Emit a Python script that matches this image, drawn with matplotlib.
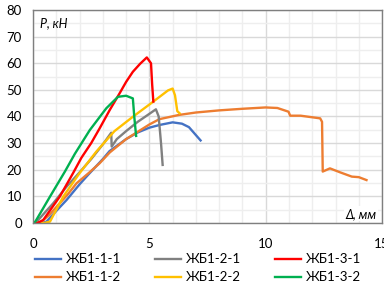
import matplotlib.pyplot as plt
from matplotlib.ticker import MultipleLocator

plt.rcParams['font.family'] = ['Lato', 'DejaVu Sans']

# ЖБ1-1-1
x_111 = [0.0, 0.4, 0.58, 1.0, 1.44, 2.0, 2.36, 3.0, 3.29, 4.0, 4.5, 5.0, 5.43, 6.0, 6.4, 6.7, 7.0, 7.2]
y_111 = [0.0, 0.0, 0.5, 4.5, 8.6, 14.5, 18.0, 24.0, 27.0, 31.5, 34.0, 35.8, 36.8, 37.8, 37.3, 36.0, 33.0, 31.0]
# ЖБ1-1-2
x_112 = [0.0, 0.3, 0.7, 1.15, 1.5, 1.87, 2.4, 2.86, 3.3, 4.0, 5.0, 5.43, 6.28, 7.0, 8.0, 9.0, 9.99, 10.5, 10.98,
         11.05, 11.5, 12.34, 12.42, 12.45, 12.76, 13.2, 13.7, 14.0, 14.33]
y_112 = [0.0, 0.0, 3.0, 7.4, 10.8, 14.9, 18.8, 22.4, 26.5, 31.5, 37.0, 39.0, 40.6, 41.5, 42.3, 42.9, 43.4, 43.2,
         41.8, 40.3, 40.3, 39.3, 38.0, 19.3, 20.5, 19.0, 17.4, 17.2, 16.1]
# ЖБ1-2-1
x_121 = [0.0, 0.16, 0.87, 1.44, 2.0, 2.5, 3.0, 3.36, 3.38, 3.6, 4.0, 4.5, 5.0, 5.28, 5.4, 5.5, 5.57]
y_121 = [0.0, 0.5, 7.4, 13.6, 19.0, 24.0, 29.5, 33.9, 28.7, 31.5, 34.5, 38.0, 41.0, 42.7, 40.0, 30.0, 21.8]
# ЖБ1-2-2
x_122 = [0.0, 0.5, 0.73, 1.3, 2.0, 2.72, 3.5, 4.29, 5.0, 5.5, 5.8, 6.0, 6.1, 6.2, 6.3]
y_122 = [0.0, 0.0, 0.5, 9.9, 18.7, 26.8, 34.5, 39.9, 44.5, 47.8, 49.8, 50.5, 48.0, 42.0, 41.2]
# ЖБ1-3-1
x_131 = [0.0, 0.2, 0.44, 1.15, 1.72, 2.08, 2.5, 2.86, 3.3, 3.72, 4.0, 4.29, 4.6, 4.89, 5.07, 5.12, 5.17]
y_131 = [0.0, 0.0, 1.1, 9.9, 18.7, 24.5, 30.0, 35.5, 42.5, 48.7, 53.0, 56.8, 59.8, 62.2, 60.0, 52.0, 45.6]
# ЖБ1-3-2
x_132 = [0.0, 0.1, 0.73, 1.37, 1.8, 2.44, 3.15, 3.65, 4.0, 4.29, 4.35, 4.43]
y_132 = [0.0, 0.5, 9.9, 19.3, 26.0, 34.9, 43.1, 47.4, 47.8, 46.8, 40.0, 32.7]

series = [
    ('ЖБ1-1-1', x_111, y_111, '#4472C4'),
    ('ЖБ1-1-2', x_112, y_112, '#ED7D31'),
    ('ЖБ1-2-1', x_121, y_121, '#808080'),
    ('ЖБ1-2-2', x_122, y_122, '#FFC000'),
    ('ЖБ1-3-1', x_131, y_131, '#FF0000'),
    ('ЖБ1-3-2', x_132, y_132, '#00B050'),
]

fig = plt.figure(figsize=(3.84, 2.88), dpi=100)
ax = fig.add_axes([0.086, 0.226, 0.909, 0.739])

for name, xs, ys, c in series:
    ax.plot(xs, ys, color=c, linewidth=1.7, label=name)

ax.set_xlim(0, 15)
ax.set_ylim(0, 80)
ax.xaxis.set_major_locator(MultipleLocator(5))
ax.xaxis.set_minor_locator(MultipleLocator(1))
ax.yaxis.set_major_locator(MultipleLocator(10))
ax.yaxis.set_minor_locator(MultipleLocator(5))
ax.grid(which='major', color='#D9D9D9', linewidth=1)
ax.grid(which='minor', color='#EEEEEE', linewidth=1)
ax.set_axisbelow(True)
ax.tick_params(which='both', length=0, labelsize=9.5, colors='#000000')
ax.tick_params(axis='x', pad=11)
ax.tick_params(axis='y', pad=8)
for s in ax.spines.values():
    s.set_color('#7F7F7F')
    s.set_linewidth(1)

ax.text(0.02, 0.965, 'P, кН', transform=ax.transAxes, fontsize=9, style='italic', ha='left', va='top')
ax.text(0.985, 0.015, 'Δ, мм', transform=ax.transAxes, fontsize=9, style='italic', ha='right', va='bottom',
        bbox=dict(facecolor='white', edgecolor='none', pad=1))

fig.legend(loc='lower left', bbox_to_anchor=(0.06, -0.025), ncol=3, frameon=False, fontsize=9.5,
           handlelength=2.0, columnspacing=2.55, handletextpad=0.35, labelspacing=0.45)

fig.savefig('out.png', dpi=100)
